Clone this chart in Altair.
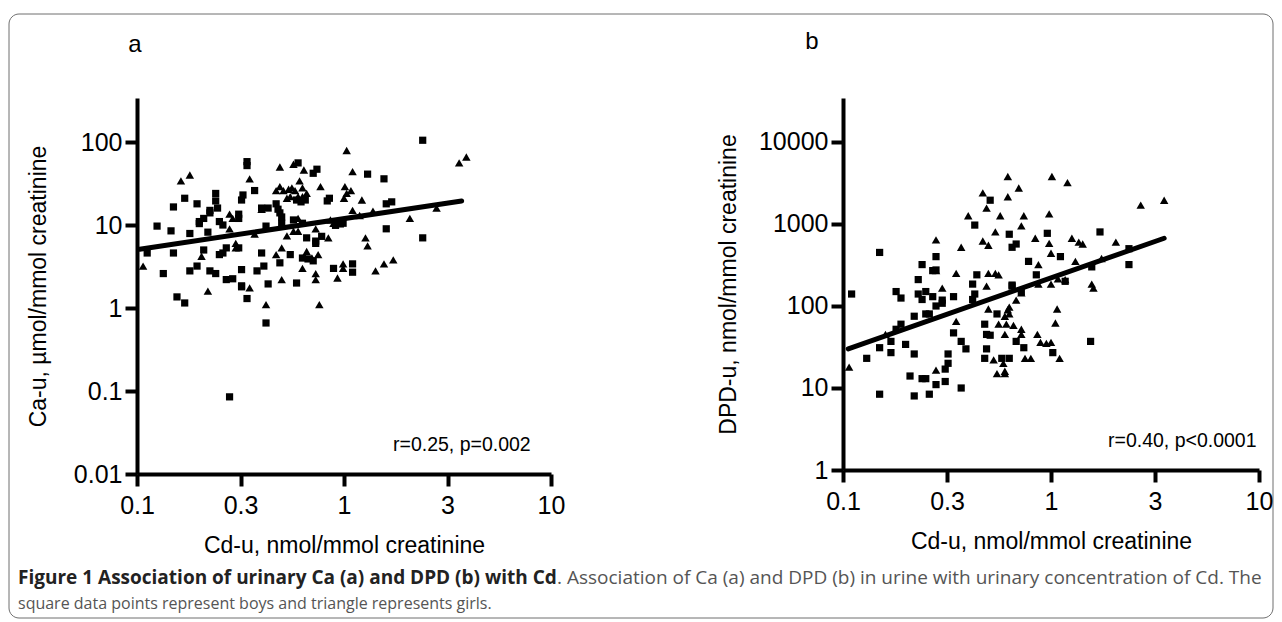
import altair as alt
import pandas as pd

# ---------------- Panel a: Ca-u vs Cd-u ----------------
a_boys_x = [2.4, 0.34, 0.34, 0.60, 0.71, 0.74, 1.3, 1.56, 0.37, 0.17, 0.15, 0.195, 0.24, 0.24, 0.245,
            0.225, 0.325, 0.32, 0.85, 0.83, 1.6, 1.7, 2.4, 1.6, 1.1, 1.1, 0.89, 0.63, 0.67, 0.71,
            0.59, 0.43, 0.49, 0.55, 0.40, 0.41, 0.38, 0.32, 0.32, 0.27, 0.29, 0.24, 0.225, 0.195, 0.18,
            0.134, 0.112, 0.21, 0.25, 0.26, 0.27, 0.31, 0.15, 0.125, 0.146, 0.18, 0.22, 0.2, 0.2, 0.21,
            0.225, 0.25, 0.26, 0.31, 0.31, 0.4, 0.43, 0.47, 0.48, 0.49, 0.5, 0.42, 0.5, 0.57, 0.63,
            0.66, 0.73, 0.78, 0.91, 0.96, 0.99, 0.59, 0.65, 0.62, 0.156, 0.17, 0.32, 0.34, 0.42, 0.28, 0.73]
a_boys_y = [105, 58, 52, 56, 42, 47, 41, 36, 26, 21, 16.5, 18, 24, 19.5, 16,
            15, 23, 20, 21, 19.5, 18, 19, 7, 9, 3.4, 2.7, 3.0, 4.0, 3.9, 3.7,
            2.0, 1.95, 3.5, 4.4, 4.6, 3.2, 2.8, 2.9, 1.85, 2.2, 2.25, 2.6, 2.8, 3.2, 2.8,
            2.6, 4.6, 5.0, 4.4, 4.6, 5.3, 5.3, 4.6, 9.7, 8.5, 7.9, 8.2, 10.4, 11, 12,
            14, 11, 10, 13.5, 12, 16, 16, 18, 15.5, 14, 12.5, 9.7, 10.5, 11.5, 10.5,
            7.0, 6.4, 7.3, 9.9, 10.3, 10.5, 20, 20, 19, 1.36, 1.15, 1.8, 1.3, 0.66, 0.085, 6.0]
a_girls_x = [1.03, 3.9, 3.6, 0.49, 0.57, 0.64, 1.1, 0.163, 0.18, 0.35, 0.77, 1.01, 1.08, 1.0, 1.03,
             1.22, 2.08, 2.8, 1.27, 1.3, 1.73, 1.56, 1.42, 0.99, 0.99, 0.93, 0.66, 0.75, 0.63, 0.73,
             0.73, 0.5, 0.47, 0.5, 0.35, 0.107, 0.205, 0.3, 0.3, 0.28, 0.29, 0.28, 0.4, 0.37, 0.53,
             0.57, 0.6, 0.73, 0.84, 0.86, 0.89, 1.1, 1.19, 1.38, 0.47, 0.49, 0.51, 0.54, 0.56, 0.58,
             0.61, 0.63, 0.63, 0.66, 0.6, 0.55, 0.53, 0.6, 0.7, 0.22, 0.42, 0.76]
a_girls_y = [79, 66, 56, 50, 54, 46, 44, 34, 40, 36, 29, 29, 26, 21, 24,
             20, 12, 16, 7.0, 5.6, 3.8, 3.4, 2.8, 3.4, 3.0, 2.3, 4.8, 4.4, 3.0, 2.6,
             2.2, 2.2, 4.4, 5.3, 1.75, 3.2, 4.2, 6.0, 5.3, 13.5, 12, 9, 15.5, 7.8, 7.4,
             8.4, 8.4, 9.0, 7.0, 11.5, 10.5, 15, 13, 14.7, 26, 29, 26, 27, 28, 26,
             34, 28, 22, 24, 22, 22, 21, 12, 4.0, 1.6, 1.1, 1.1]
a_fit_x = [0.103, 3.7]
a_fit_y = [5.1, 19.5]

# ---------------- Panel b: DPD-u vs Cd-u ----------------
b_boys_x = [0.51, 0.43, 0.63, 0.96, 1.72, 0.65, 0.68, 2.37, 0.15, 1.11, 0.28, 0.78, 1.57, 2.37, 0.24,
            0.27, 0.28, 0.44, 0.85, 0.23, 0.42, 0.65, 0.18, 0.11, 0.25, 0.19, 0.23, 0.24, 0.27, 0.34,
            0.28, 0.3, 0.3, 0.43, 0.42, 0.72, 1.17, 0.22, 0.25, 0.26, 0.19, 0.18, 0.17, 0.15, 0.17,
            0.2, 0.13, 0.22, 0.15, 0.21, 0.24, 0.25, 0.22, 0.26, 0.28, 0.31, 0.31, 0.32, 0.32, 0.34,
            0.37, 0.39, 0.37, 0.55, 0.48, 0.49, 0.51, 0.68, 0.74, 0.49, 0.48, 0.58, 0.63, 1.02, 1.55, 0.65]
b_boys_y = [1950, 970, 750, 770, 800, 520, 570, 500, 450, 400, 400, 350, 300, 320, 320,
            270, 275, 240, 240, 210, 185, 180, 150, 140, 150, 125, 140, 120, 130, 130,
            100, 108, 118, 140, 120, 150, 200, 75, 80, 80, 60, 52, 37, 31, 27,
            34, 23, 26, 8.4, 14, 13, 13, 8.0, 8.4, 11, 12, 17, 20, 26, 47,
            37, 30, 10, 80, 60, 45, 44, 37, 31, 30, 23, 23, 23, 27, 37, 175]
b_girls_x = [0.62, 1.01, 1.2, 0.47, 0.7, 0.62, 0.49, 2.7, 3.5, 0.4, 0.57, 0.74, 0.98, 0.72, 0.54,
             0.28, 0.37, 0.47, 0.5, 0.84, 0.98, 1.26, 1.36, 1.42, 2.05, 1.0, 0.87, 1.31, 1.75, 0.28,
             0.35, 0.5, 0.54, 0.56, 1.08, 1.17, 0.49, 0.3, 1.0, 1.57, 1.6, 0.87, 0.16, 0.107, 0.28,
             0.35, 0.5, 0.62, 0.63, 0.6, 0.63, 0.68, 0.72, 0.56, 0.61, 0.66, 0.6, 0.72, 0.72, 0.53,
             0.59, 0.55, 0.6, 0.6, 0.75, 0.8, 0.86, 0.89, 0.95, 1.0, 1.1, 1.05, 1.07]
b_girls_y = [3800, 3800, 3200, 2400, 2750, 2150, 1560, 1700, 1950, 1260, 1260, 1260, 1330, 950, 800,
             640, 520, 620, 550, 670, 580, 670, 600, 570, 600, 440, 320, 350, 380, 270,
             250, 250, 250, 240, 215, 210, 175, 165, 185, 185, 165, 185, 45, 18, 16.5,
             65, 92, 90, 97, 75, 80, 118, 145, 60, 60, 58, 45, 45, 52, 22,
             20, 15, 16, 15, 23, 23, 45, 36, 35, 36, 23, 62, 92]
b_fit_x = [0.106, 3.5]
b_fit_y = [30, 670]

x_ticks = [0.1, 0.31623, 1, 3.1623, 10]
x_tick_labels = ["0.1", "0.3", "1", "3", "10"]
a_y_ticks = [0.01, 0.1, 1, 10, 100]
b_y_ticks = [1, 10, 100, 1000, 10000]
x_title = "Cd-u, nmol/mmol creatinine"
a_y_title = "Ca-u, \u00b5mol/mmol creatinine"
b_y_title = "DPD-u, nmol/mmol creatinine"

FONT = "Liberation Sans"
label_expr = ("datum.value < 0.2 ? '%s' : datum.value < 0.5 ? '%s' : datum.value < 2 ? '%s' : "
              "datum.value < 5 ? '%s' : '%s'") % tuple(x_tick_labels)


def make_df(bx, by, gx, gy):
    return pd.DataFrame({
        "x": bx + gx,
        "y": by + gy,
        "sex": ["boys"] * len(bx) + ["girls"] * len(gx),
    })


def common_axis(**kw):
    return alt.Axis(domainColor="black", domainWidth=4, tickColor="black", tickWidth=4, tickSize=12,
                    labelFont=FONT, labelFontSize=25, labelColor="black", titleFont=FONT,
                    titleFontSize=23, titleFontWeight="normal", titleColor="black", grid=False,
                    labelFlush=False, labelOverlap=False, **kw)


def panel(df, fx, fy, w, h, ydom, yticks, ytitle, ytitle_x, letter, letter_xy, note, note_xy, extra=None):
    xenc = alt.X("x:Q", scale=alt.Scale(type="log", domain=[0.1, 10], nice=False),
                 axis=common_axis(values=x_ticks, labelExpr=label_expr, labelPadding=7,
                                  titleY=60, titleBaseline="top"),
                 title=x_title)
    yenc = alt.Y("y:Q", scale=alt.Scale(type="log", domain=ydom, nice=False),
                 axis=common_axis(values=yticks, format="~g", labelPadding=3,
                                  titleX=ytitle_x, titleY=h / 2, titleAngle=-90,
                                  titleBaseline="middle", titleAlign="center"),
                 title=ytitle)
    pts = alt.Chart(df).mark_point(filled=True, opacity=1, color="black").encode(
        x=xenc, y=yenc,
        shape=alt.Shape("sex:N", scale=alt.Scale(domain=["boys", "girls"], range=["square", "triangle-up"]),
                        legend=None),
        size=alt.Size("sex:N", scale=alt.Scale(domain=["boys", "girls"], range=[52, 72]), legend=None),
    )
    fit = alt.Chart(pd.DataFrame({"x": fx, "y": fy})).mark_line(
        color="black", strokeWidth=5, strokeCap="round").encode(x=xenc, y=yenc)
    let = alt.Chart(pd.DataFrame({"t": [letter]})).mark_text(
        font=FONT, fontSize=24, color="black", align="center", baseline="alphabetic").encode(
        text="t:N", x=alt.value(letter_xy[0]), y=alt.value(letter_xy[1]))
    nt = alt.Chart(pd.DataFrame({"t": [note]})).mark_text(
        font=FONT, fontSize=19.5, color="black", align="left", baseline="alphabetic").encode(
        text="t:N", x=alt.value(note_xy[0]), y=alt.value(note_xy[1]))
    layers = [pts, fit, let, nt]
    if extra:
        layers += extra
    return alt.layer(*layers).properties(width=w, height=h)


cap_bold = "Figure 1 Association of urinary Ca (a) and DPD (b) with Cd"
cap_rest1 = ". Association of Ca (a) and DPD (b) in urine with urinary concentration of Cd. The"
cap_rest2 = "square data points represent boys and triangle represents girls."

one = pd.DataFrame({"k": [0]})
border = alt.Chart(one).mark_rect(fill="white", fillOpacity=0, stroke="#6f6f6f", strokeWidth=1,
                                  cornerRadius=10).encode(
    x=alt.value(-128), x2=alt.value(1136), y=alt.value(-84), y2=alt.value(520))
cap1 = alt.Chart(pd.DataFrame({"t": [cap_bold]})).mark_text(
    font="Open Sans", fontSize=19, fontWeight="bold", color="#222222", align="left",
    baseline="alphabetic").encode(text="t:N", x=alt.value(-119), y=alt.value(486))
cap2 = alt.Chart(pd.DataFrame({"t": [cap_rest1]})).mark_text(
    font="Open Sans", fontSize=19, color="#555555", align="left",
    baseline="alphabetic").encode(text="t:N", x=alt.value(420), y=alt.value(486))
cap3 = alt.Chart(pd.DataFrame({"t": [cap_rest2]})).mark_text(
    font="Open Sans", fontSize=16, color="#555555", align="left",
    baseline="alphabetic").encode(text="t:N", x=alt.value(-119), y=alt.value(511))

df_a = make_df(a_boys_x, a_boys_y, a_girls_x, a_girls_y)
df_b = make_df(b_boys_x, b_boys_y, b_girls_x, b_girls_y)

panel_a = panel(df_a, a_fit_x, a_fit_y, 414, 376, [0.01, 339], a_y_ticks, a_y_title, -99,
                "a", (-2, -46), "r=0.25, p=0.002", (256, 353), extra=[border, cap1, cap2, cap3])
panel_b = panel(df_b, b_fit_x, b_fit_y, 416, 372, [1, 34400], b_y_ticks, b_y_title, -115,
                "b", (-31, -49), "r=0.40, p<0.0001", (265, 349))

chart = alt.hconcat(panel_a, panel_b, spacing=292, bounds="flush").properties(
    padding={"left": 0, "top": 5, "right": 0, "bottom": 0}
).configure_view(stroke=None)

chart.save("out.html", embed_options={"renderer": "svg", "actions": False})
